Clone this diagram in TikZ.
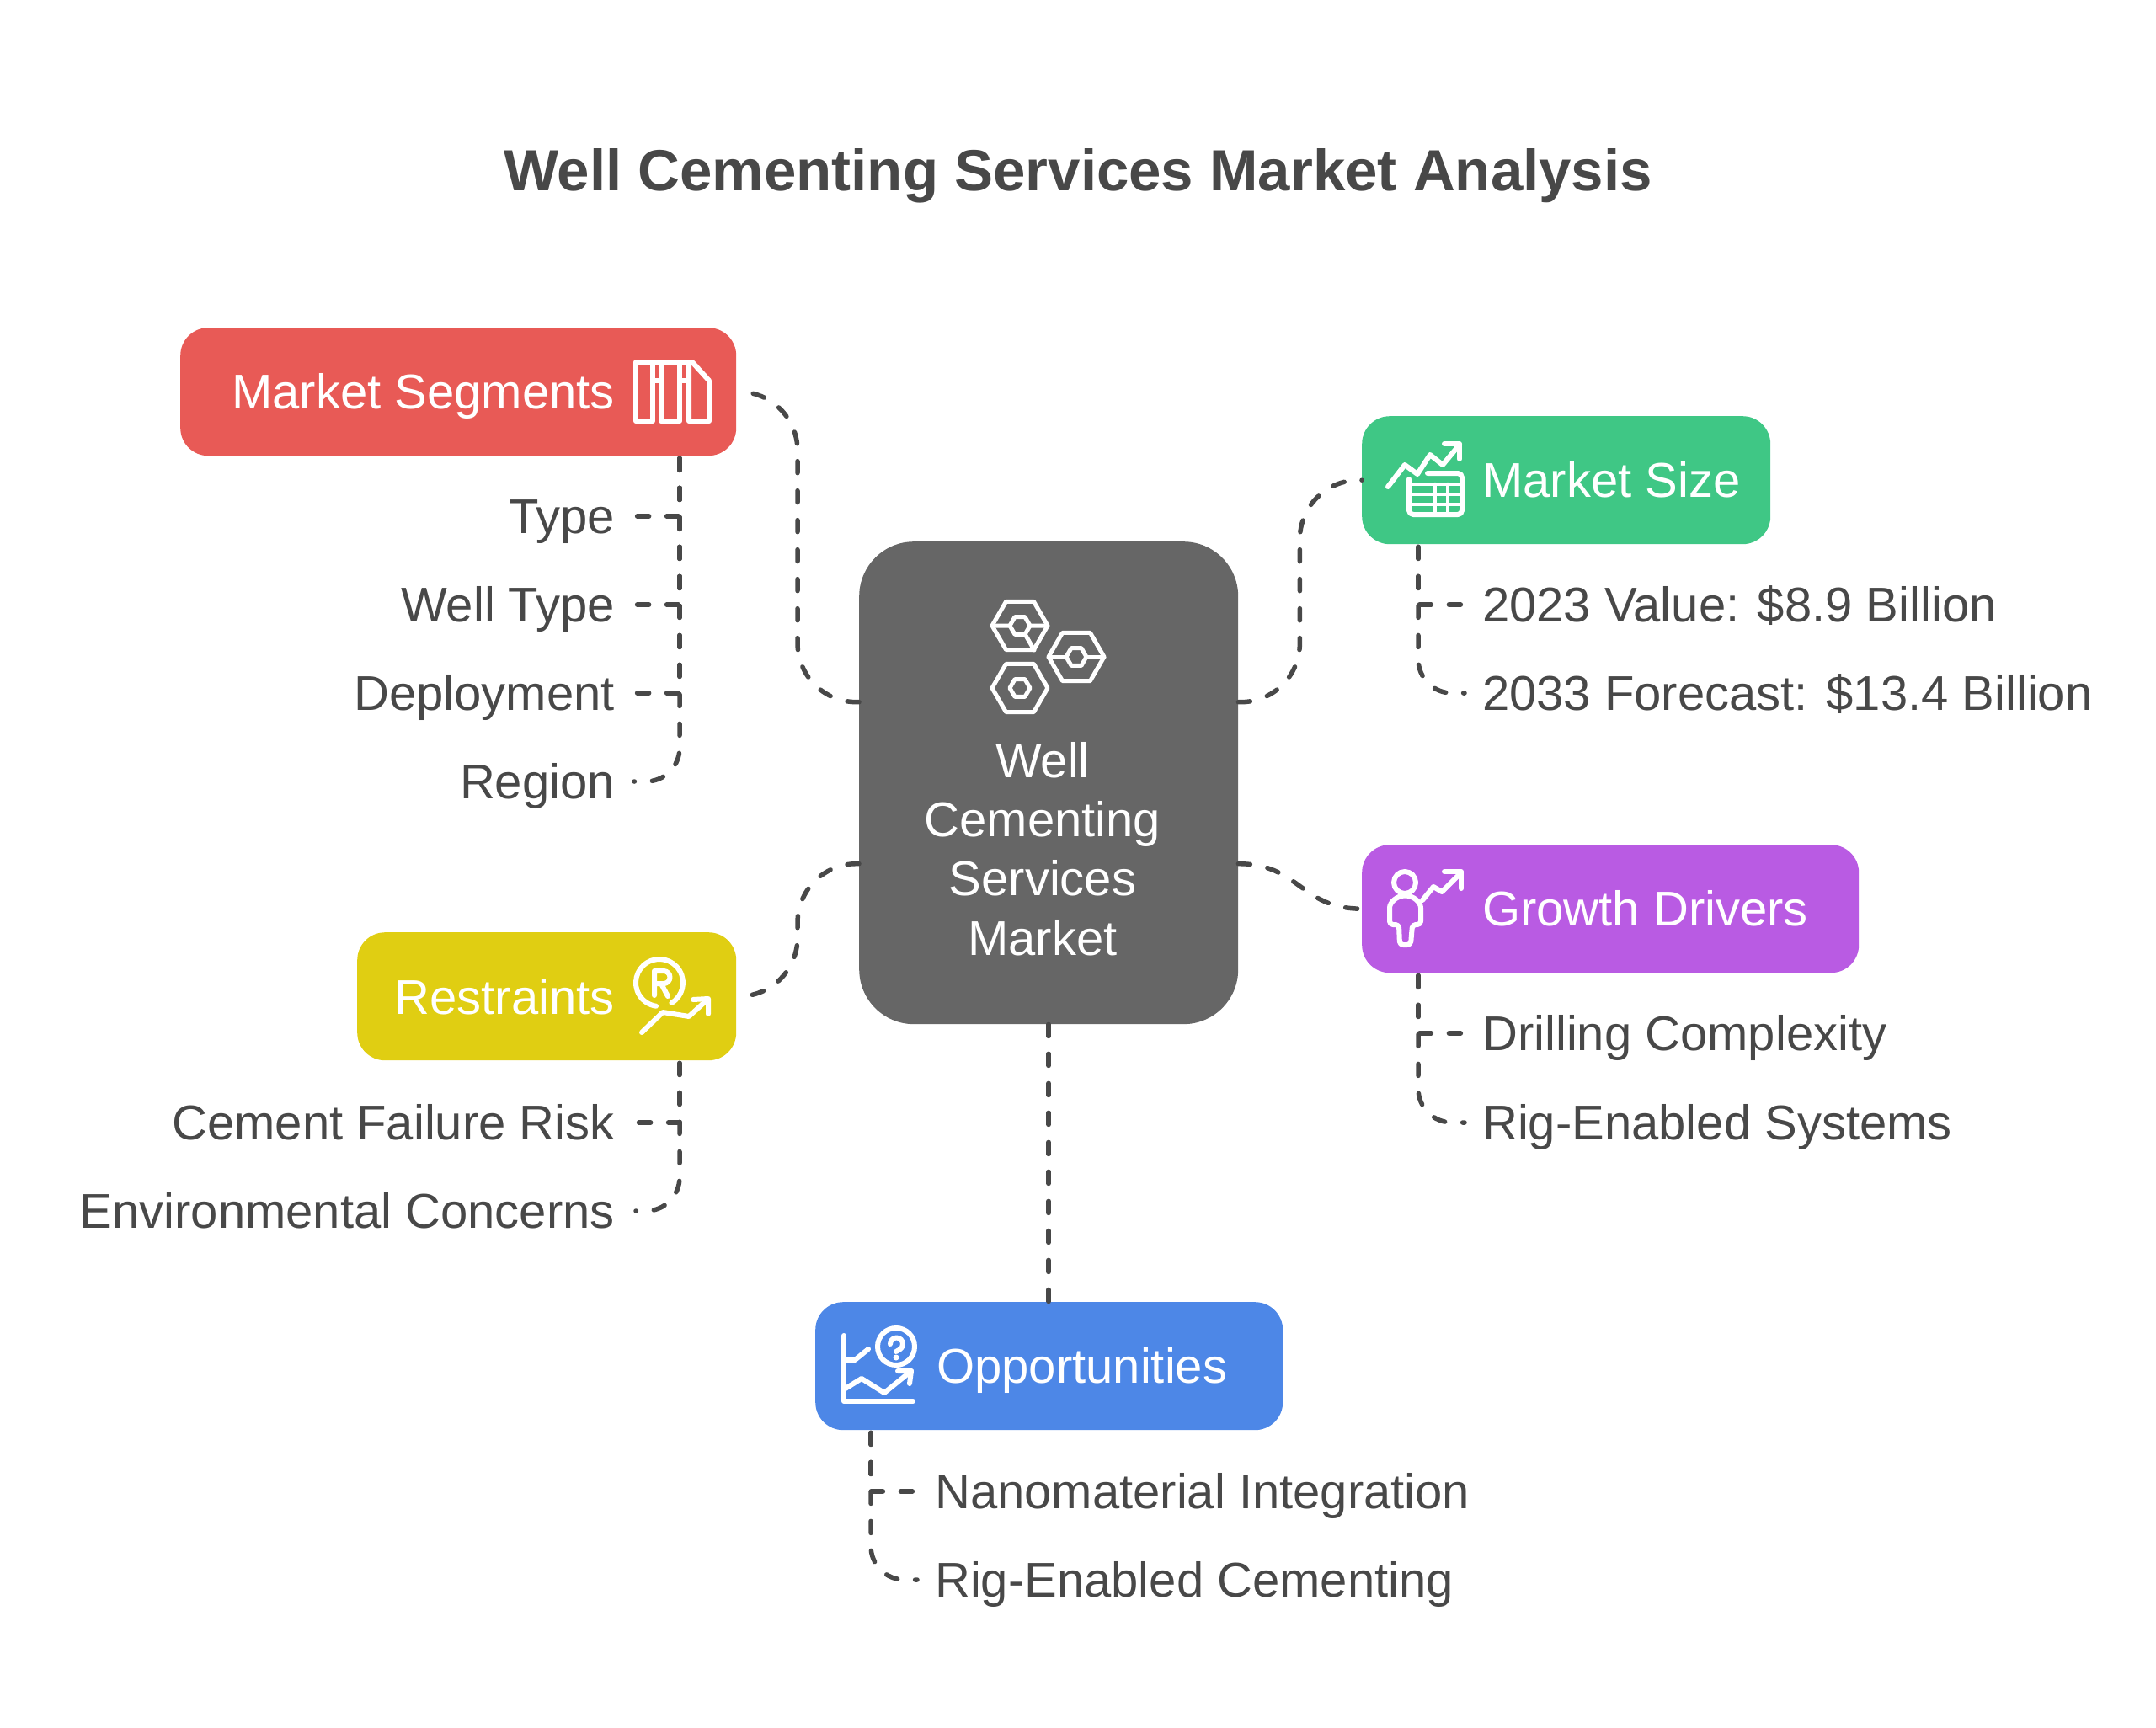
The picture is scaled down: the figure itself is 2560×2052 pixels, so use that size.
\documentclass[tikz,border=0pt]{standalone}
\usepackage{fontspec}
\setmainfont{Liberation Sans}
\definecolor{inkgray}{HTML}{484848}
\definecolor{hubgray}{HTML}{666666}
\definecolor{segred}{HTML}{E85A56}
\definecolor{sizegreen}{HTML}{3FC785}
\definecolor{growpurple}{HTML}{B95BE3}
\definecolor{restyellow}{HTML}{E0CE12}
\definecolor{oppblue}{HTML}{4D87E7}
\tikzset{
 box/.style={rounded corners=33,inner sep=0,anchor=north west,minimum height=152},
 boxtext/.style={text=white,inner sep=0,text height=41.5,text depth=0,font=\fontsize{58}{70}\selectfont},
 itemleft/.style={text=inkgray,inner ysep=0,inner xsep=25,anchor=east,text height=40,text depth=0,font=\fontsize{58}{70}\selectfont},
 itemright/.style={text=inkgray,inner ysep=0,inner xsep=21,anchor=west,text height=40,text depth=0,font=\fontsize{58}{70}\selectfont},
 conn/.style={draw=inkgray,line width=5.5,line cap=round,dash pattern=on 14 off 21},
 icon/.style={draw=white,line width=6,line cap=round,line join=round}
}
\begin{document}
\begin{tikzpicture}[x=1pt,y=-1pt]
\useasboundingbox (0,0) rectangle (2560,2052);

\node[text=inkgray,font=\fontsize{69}{84}\selectfont\bfseries] (title) at (1280,209) {Well Cementing Services Market Analysis};

% boxes
\node[box,rounded corners=65,fill=hubgray,minimum width=450,minimum height=573] (hub) at (1020,643) {};
\node[box,fill=segred,minimum width=660] (segments) at (214,389) {};
\node[box,fill=sizegreen,minimum width=485] (size) at (1617,494) {};
\node[box,fill=growpurple,minimum width=590] (growth) at (1617,1003) {};
\node[box,fill=restyellow,minimum width=450] (restraints) at (424,1107) {};
\node[box,fill=oppblue,minimum width=555] (opps) at (968,1546) {};

% box texts
\node[text=white,inner sep=0,align=center,font=\fontsize{58}{70.4}\selectfont] (hubtext) at (1238,1008) {Well\\Cementing\\Services\\Market};
\node[boxtext,anchor=east] (segmentstext) at (730,465) {Market Segments};
\node[boxtext,anchor=west] (sizetext) at (1760,570) {Market Size};
\node[boxtext,anchor=west] (growthtext) at (1760,1079) {Growth Drivers};
\node[boxtext,anchor=east] (restraintstext) at (730,1184) {Restraints};
\node[boxtext,anchor=west] (oppstext) at (1112,1622) {Opportunities};

% items
\node[itemleft] (type) at (755,613) {Type};
\node[itemleft] (welltype) at (755,718) {Well Type};
\node[itemleft] (deploy) at (755,823) {Deployment};
\node[itemleft] (region) at (755,928) {Region};
\node[itemleft] (failure) at (755,1333) {Cement Failure Risk};
\node[itemleft] (environ) at (755,1438) {Environmental Concerns};
\node[itemright] (value) at (1739,718) {2023 Value: \$8.9 Billion};
\node[itemright] (forecast) at (1739,823) {2033 Forecast: \$13.4 Billion};
\node[itemright] (drilling) at (1739,1227) {Drilling Complexity};
\node[itemright] (rigsys) at (1739,1333) {Rig-Enabled Systems};
\node[itemright] (nano) at (1089,1771) {Nanomaterial Integration};
\node[itemright] (rigcem) at (1089,1876) {Rig-Enabled Cementing};

% hub to boxes
\draw[conn,rounded corners=70] ([yshift=96]hub.west) -- ++(-73,0) |- (segments.east);
\draw[conn,rounded corners=70] ([yshift=-96]hub.west) -- ++(-73,0) |- (restraints.east);
\draw[conn,rounded corners=70] ([yshift=96]hub.east) -- ++(73,0) |- (size.west);
\draw[conn] ([yshift=-96]hub.east) .. controls ++(73,0) and ([xshift=-73]growth.west) .. (growth.west);
\draw[conn] (hub.south) -- (opps.north -| hub.south);

% boxes to items
\foreach \item in {type,welltype,deploy}
{
    \draw[conn] ([xshift=593,yshift=-3]segments.south west) |- (\item.east);
}
\draw[conn,rounded corners=40] ([xshift=593,yshift=-3]segments.south west) |- ([xshift=-2]region.east);
\draw[conn] ([xshift=383,yshift=-3]restraints.south west) |- (failure.east);
\draw[conn,rounded corners=40] ([xshift=383,yshift=-3]restraints.south west) |- (environ.east);
\draw[conn] ([xshift=67,yshift=-3]size.south west) |- (value.west);
\draw[conn,rounded corners=40] ([xshift=67,yshift=-3]size.south west) |- (forecast.west);
\draw[conn] ([xshift=67,yshift=-3]growth.south west) |- (drilling.west);
\draw[conn,rounded corners=40] ([xshift=67,yshift=-3]growth.south west) |- (rigsys.west);
\draw[conn] ([xshift=66,yshift=-3]opps.south west) |- (nano.west);
\draw[conn,rounded corners=40] ([xshift=66,yshift=-3]opps.south west) |- (rigcem.west);

% hexagons
\foreach \cx/\cy in {1211/743,1278/780,1211/817}
{
\begin{scope}[shift={(\cx,\cy)}]
    \draw[icon,line width=5] (0:33)--(60:33)--(120:33)--(180:33)--(240:33)--(300:33)--cycle;
    \draw[icon,line width=5] (0:12)--(60:12)--(120:12)--(180:12)--(240:12)--(300:12)--cycle;
\end{scope}
}
\draw[icon,line width=5] (1178,743)--(1199,743) (1223,743)--(1244,743) (1217,753)--(1228,772);
\draw[icon,line width=5] (1245,780)--(1266,780) (1290,780)--(1311,780);

% segments icon
\draw[icon] (755,430) rectangle (775,500);
\draw[icon] (785,430) rectangle (807,500);
\draw[icon] (775,430)--(822,430)--(842,452)--(842,500)--(818,500)--(818,430);
\draw[icon] (775,452)--(785,452) (807,452)--(818,452);

% size icon
\draw[icon] (1648,578)--(1668,552)--(1683,563)--(1698,540)--(1713,552)--(1733,528);
\draw[icon] (1715,527)--(1733,527)--(1733,545);
\draw[icon,rounded corners=5] (1695,562)--(1736,562)--(1736,611)--(1673,611)--(1673,569);
\draw[icon,line width=4.5] (1673,575)--(1736,575) (1673,587)--(1736,587) (1673,599)--(1736,599);
\draw[icon,line width=4.5] (1704,575)--(1704,611) (1719,575)--(1719,611);

% growth icon
\draw[icon] (1668,1048) circle (13);
\draw[icon,rounded corners=4] (1661,1098)--(1650,1098)--(1650,1082) arc[start angle=180,end angle=360,radius=18.5] --(1687,1098)--(1677,1098)--(1675,1122)--(1662,1122)--cycle;
\draw[icon] (1689,1069)--(1702,1053)--(1712,1059)--(1735,1036);
\draw[icon] (1715,1035)--(1735,1035)--(1735,1055);

% restraints icon
\draw[icon] (797.4,1191) arc[start angle=-301,end angle=-622,radius=28];
\draw[icon] (777,1182)--(777,1153)--(788,1153) arc[start angle=-90,end angle=90,radius=7.5]--(777,1168) (785,1168)--(793,1183);
\draw[icon] (762,1226)--(787,1202)--(818,1207)--(840,1187);
\draw[icon] (823,1187)--(841,1186)--(841,1204);

% opportunities icon
\draw[icon] (1002,1586)--(1002,1664)--(1084,1664);
\draw[icon] (1002,1615)--(1015,1615)--(1031,1602);
\draw[icon] (1002,1650)--(1023,1637)--(1050,1654)--(1082,1628);
\draw[icon] (1066,1628)--(1082,1628)--(1080,1643);
\draw[icon] (1064,1599) circle (22);
\draw[icon] (1057,1596) arc[start angle=-180,end angle=60,radius=7.5]--(1064,1605);
\fill[white] (1064,1612) circle (3.5);
\end{tikzpicture}
\end{document}
